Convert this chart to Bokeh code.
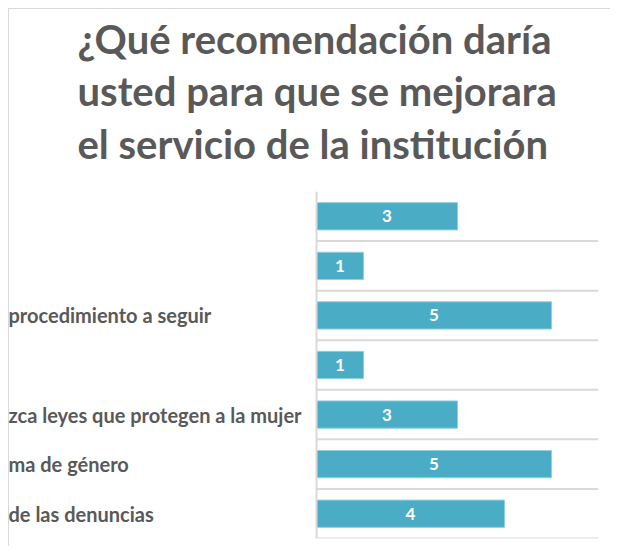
from bokeh.plotting import figure
from bokeh.models import Title, Range1d, ColumnDataSource, Span
from bokeh.core.properties import value
from bokeh.embed import file_html
from bokeh.resources import INLINE

# ---- data ----
title_lines = [
    "¿Qué recomendación daría",
    "usted para que se mejorara",
    "el servicio de la institución",
]
categories = [
    "",
    "",
    "procedimiento a seguir",
    "",
    "zca leyes que protegen a la mujer",
    "ma de género",
    "de las denuncias",
]
counts = [3, 1, 5, 1, 3, 5, 4]
x_max = 6

FONT = "Lato"
GRAY = "#595959"
BAR = "#4BACC6"
LINE = "#D9D9D9"

# ---- layout (pixels) ----
W, H = 610, 553
FRAME_RIGHT_PAD = 12
AXIS_PX = 316            # where the value axis sits inside the frame
LABEL_PX = 8             # left edge of the category labels
frame_w = W - FRAME_RIGHT_PAD
px_per_unit = (frame_w - AXIS_PX) / x_max
x_start = -AXIS_PX / px_per_unit
label_x = x_start + LABEL_PX / px_per_unit

n = len(categories)
pos = list(range(1, n + 1))

src = ColumnDataSource(dict(
    y=pos,
    v=counts,
    mid=[c / 2 for c in counts],
    lab=[str(c) for c in counts],
    cat=categories,
    lx=[label_x] * n,
))
grid_src = ColumnDataSource(dict(
    y=[i + 0.5 for i in pos],
    x0=[0] * n,
    x1=[x_max] * n,
))

border_css = (
    "linear-gradient(#d9d9d9,#d9d9d9) 8px 15px / 100% 1px no-repeat, "
    "linear-gradient(#d9d9d9,#d9d9d9) 8px 15px / 1px 100% no-repeat, white"
)

p = figure(
    width=W, height=H,
    x_range=Range1d(x_start, x_max),
    y_range=Range1d(n + 0.5, 0.5),
    output_backend="svg", toolbar_location=None,
    min_border_left=0, min_border_right=FRAME_RIGHT_PAD,
    min_border_top=0, min_border_bottom=8,
    styles={"background": border_css},
)
p.margin = (-7, 0, 0, 0)
p.outline_line_color = None
p.background_fill_color = None
p.border_fill_color = None
p.xaxis.visible = False
p.yaxis.visible = False
p.xgrid.visible = False
p.ygrid.visible = False

# category separators and value axis line
p.segment(x0="x0", x1="x1", y0="y", y1="y", source=grid_src,
          line_color=LINE, line_width=2)
p.add_layout(Span(location=0, dimension="height",
                  line_color=LINE, line_width=2))

p.hbar(y="y", left=0, right="v", height=0.55, source=src,
       fill_color=BAR, line_color="#8FCFE0", line_width=1)
p.text(x="mid", y="y", text="lab", source=src,
       text_font=value(FONT), text_font_size="17px", text_font_style="bold",
       text_color="white", text_align="center", text_baseline="middle")

# category labels (left aligned, clipped at the left edge as in the reference)
p.text(x="lx", y="y", text="cat", source=src,
       text_font=value(FONT), text_font_size="20px", text_font_style="bold",
       text_color=GRAY, text_align="left", text_baseline="middle")

# multi-line title
t = Title(text="\n".join(title_lines), text_font=FONT, text_font_size="40px",
          text_font_style="bold", text_color=GRAY, text_line_height=1.09,
          align="left", offset=77, vertical_align="top", standoff=43)
p.add_layout(t, "above")

open("out.html", "w").write(file_html(p, INLINE))
